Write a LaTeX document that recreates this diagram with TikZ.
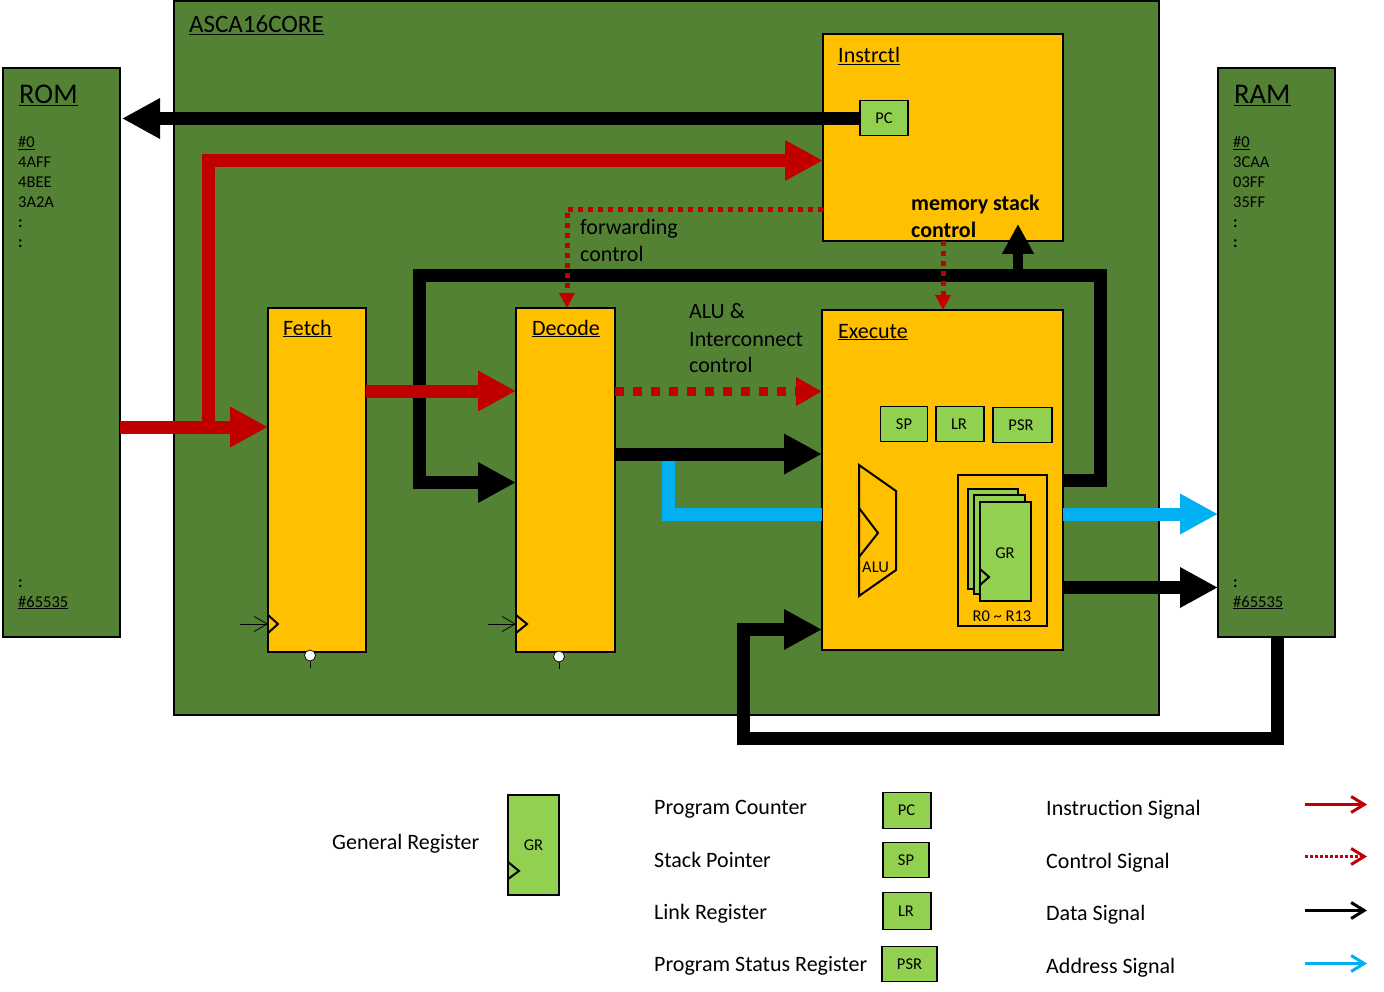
\documentclass[tikz,border=0pt]{standalone}
\usepackage{fontspec}
\setmainfont{Carlito}
\usetikzlibrary{arrows.meta}
\definecolor{dgreen}{HTML}{548235}
\definecolor{lgreen}{HTML}{92D050}
\definecolor{amber}{HTML}{FFC000}
\definecolor{dred}{HTML}{C00000}
\definecolor{sky}{HTML}{00B0F0}
\tikzset{
  x=1pt,y=-1pt,
  blockbox/.style={draw=black,line width=2pt,fill=#1,inner sep=0pt,outer sep=0pt},
  reg/.style={draw=black,line width=1.1pt,fill=lgreen,inner sep=0pt,outer sep=0pt,font=\fontsize{16.5}{16.5}\selectfont},
  lbl/.style={inner sep=0pt,anchor=base west,font=\fontsize{22}{22}\selectfont},
  small/.style={inner sep=0pt,anchor=base west,font=\fontsize{16.5}{16.5}\selectfont},
  big/.style={inner sep=0pt,anchor=base west,font=\fontsize{28.5}{28.5}\selectfont},
  bus/.style={line width=13pt,-{Triangle[length=38pt,width=38pt]}},
  busnt/.style={line width=13pt},
  ctrl/.style={dred,line width=5pt,dash pattern=on 5pt off 5pt},
  ctrlhead/.style={dred,line width=5pt,-{Triangle[length=15pt,width=15pt]}},
  clk/.style={-{Straight Barb[length=13pt,width=15pt,line width=.8pt]},line width=.8pt},
  edge/.style={line width=2pt},
  key/.style={line width=3pt,-{Straight Barb[length=13pt,width=16pt,line width=3pt]}},
}
\begin{document}
\begin{tikzpicture}
\useasboundingbox (0,0) rectangle (1384,992);
% main blocks
\node[blockbox=dgreen,minimum width=985pt,minimum height=714pt] (core) at (666.5,358) {};
\node[blockbox=dgreen,minimum width=117pt,minimum height=569pt] (rom) at (61.5,352.5) {};
\node[blockbox=dgreen,minimum width=117pt,minimum height=569pt] (ram) at (1276.5,352.5) {};
\node[blockbox=amber,minimum width=240pt,minimum height=207pt] (instr) at (943,137.5) {};
\node[blockbox=amber,minimum width=98pt,minimum height=344pt] (fetch) at (317,480) {};
\node[blockbox=amber,minimum width=99pt,minimum height=344pt] (decode) at (565.5,480) {};
\node[blockbox=amber,minimum width=241pt,minimum height=340pt] (exec) at (942.5,480) {};
% buses
\coordinate (a) at (120,427);
\coordinate (r1) at (208,427);
\coordinate (r2) at (208,160.5);
\draw[bus,dred] (rom.east|-a) -- (fetch.west|-a);
\draw[bus,dred] (r1) -- (r2) -- (instr.west|-r2);
\coordinate (de) at (0,454);
\draw[bus] (decode.east|-de) -- (exec.west|-de);
\coordinate (b1) at (668,514);
\coordinate (b2) at (668,461);
\draw[busnt,sky] (exec.west|-b1) -- (b1) -- (b2);
\coordinate (er) at (0,514);
\draw[bus,sky] (exec.east|-er) -- (ram.west|-er);
\coordinate (er2) at (0,587.5);
\draw[bus] (exec.east|-er2) -- (ram.west|-er2);
\coordinate (loop) at (0,480);
\coordinate (ld) at (0,482.5);
\draw[bus] (exec.east|-loop) -- (1100,480) -- (1100,276) -- (419,276) -- (419,482.5) -- (decode.west|-ld);
\coordinate (m1) at (1018,276);
\coordinate (m2) at (1018,224);
\draw[line width=10pt,-{Triangle[length=30pt,width=30pt]}] (m1) -- (m2);
\coordinate (re) at (0,629.5);
\coordinate (rs) at (1277,0);
\draw[bus] (ram.south-|rs) -- (1277,738) -- (743,738) -- (743,629.5) -- (exec.west|-re);
\coordinate (fd) at (0,391);
\draw[bus,dred] (fetch.east|-fd) -- (decode.west|-fd);
% PC
\node[reg,minimum width=48pt,minimum height=35pt] (pc) at (884,118) {PC};
\coordinate (pcy) at (0,118.5);
\coordinate (pce) at (122,118.5);
\draw[bus] (pc.west|-pcy) -- (pce);
% control
\coordinate (c1) at (0,209.5);
\coordinate (c1b) at (567,209.5);
\coordinate (c1c) at (567,293);
\coordinate (c1d) at (567,308);
\draw[ctrl] (instr.west|-c1) -- (c1b) -- (c1c);
\draw[ctrlhead] (c1c) -- (c1d);
\coordinate (c3) at (943,296);
\coordinate (c3b) at (943,310);
\coordinate (c3a) at (943,241);
\draw[ctrl] (c3a) -- (c3);
\draw[ctrlhead] (c3) -- (c3b);
\coordinate (c2) at (0,391.5);
\coordinate (c2b) at (796,391.5);
\draw[dred,line width=8.5pt,dash pattern=on 9pt off 9pt] (decode.east|-c2) -- (c2b);
\draw[dred,line width=8.5pt,-{Triangle[length=26pt,width=27pt]}] (c2b) -- (exec.west|-c2);
% text
\node[lbl,font=\fontsize{25}{25}\selectfont] (t0) at (189,33) {\underline{ASCA16CORE}};
\node[lbl] (t1) at (838,63) {\underline{Instrctl}};
\node[lbl] (t2) at (283,335) {\underline{Fetch}};
\node[lbl] (t3) at (532,335) {\underline{Decode}};
\node[lbl] (t4) at (838,338) {\underline{Execute}};
\node[big] (t5) at (19,104) {\underline{ROM}};
\node[big] (t6) at (1234,104) {\underline{RAM}};
\node[small] (ra) at (18,148) {\underline{\#0}};
\node[small] (rb) at (18,168) {4AFF};
\node[small] (rc) at (18,188) {4BEE};
\node[small] (rd) at (18,208) {3A2A};
\node[small] (re1) at (18,228) {\textbf{:}};
\node[small] (rf) at (18,248) {\textbf{:}};
\node[small] (rg) at (18,587) {\textbf{:}};
\node[small] (rh) at (18,607) {\underline{\#65535}};
\node[small] (sa) at (1233,148) {\underline{\#0}};
\node[small] (sb) at (1233,168) {3CAA};
\node[small] (sc) at (1233,188) {03FF};
\node[small] (sd) at (1233,208) {35FF};
\node[small] (se1) at (1233,228) {\textbf{:}};
\node[small] (sf) at (1233,248) {\textbf{:}};
\node[small] (sg) at (1233,587) {\textbf{:}};
\node[small] (sh) at (1233,607) {\underline{\#65535}};
\node[lbl,font=\fontsize{22}{22}\selectfont\bfseries] (ms1) at (911,211) {memory stack};
\node[lbl,font=\fontsize{22}{22}\selectfont\bfseries] (ms2) at (911,238) {control};
\node[lbl] (fw1) at (580,235) {forwarding};
\node[lbl] (fw2) at (580,262) {control};
\node[lbl] (al1) at (689,319) {ALU \&};
\node[lbl] (al2) at (689,346) {Interconnect};
\node[lbl] (al3) at (689,372) {control};
% registers in execute
\node[reg,minimum width=47pt,minimum height=35pt] (xsp) at (904,424) {SP};
\node[reg,minimum width=48pt,minimum height=35pt] (xlr) at (960,424) {\kern-2pt LR};
\node[reg,minimum width=59pt,minimum height=35pt] (xpsr) at (1022.5,425) {\kern-3pt PSR};
% ALU
\draw[edge,fill=amber] (859,465) -- (896,491) -- (896,570) -- (859,596) -- cycle;
\draw[edge] (859,508) -- (878,533) -- (859,557);
\node[small] (alu) at (862,572) {ALU};
% GR stack
\draw[edge] (958,475) rectangle (1047,626);
\draw[edge,fill=lgreen] (968,489) rectangle (1018,589);
\draw[edge,fill=lgreen] (974,495) rectangle (1025,594);
\draw[edge,fill=lgreen] (980,502) rectangle (1031,601);
\draw[edge] (980,569) -- (989,577) -- (980,585);
\node[small,anchor=center] (grt) at (1005,553) {GR};
\node[small,anchor=center] (rng) at (1002,616.5) {R0 \textasciitilde{} R13};
% clocks
\coordinate (ck1) at (240,624);
\draw[clk] (ck1) -- (fetch.west|-ck1);
\draw[edge] (268,615) -- (278,624) -- (268,633);
\coordinate (ck2) at (488,624);
\draw[clk] (ck2) -- (decode.west|-ck2);
\draw[edge] (516,615) -- (527,624) -- (516,633);
\draw[line width=.8pt] (310,656) -- (310,668);
\filldraw[fill=white,draw=black,line width=.7pt] (310,655.5) circle (5.5);
\draw[line width=.8pt] (559,656) -- (559,669);
\filldraw[fill=white,draw=black,line width=.7pt] (559,656.5) circle (5.5);
% legend
\node[lbl] (lg0) at (332,849) {General Register};
\node[reg,line width=1.6pt,minimum width=51pt,minimum height=100pt] (lgr) at (533.5,845) {GR};
\draw[edge] (508,862) -- (519,871) -- (508,879);
\node[lbl] (lg1) at (654,814) {Program Counter};
\node[lbl] (lg2) at (654,867) {Stack Pointer};
\node[lbl] (lg3) at (654,919) {Link Register};
\node[lbl] (lg4) at (654,971) {Program Status Register};
\node[reg,minimum width=48pt,minimum height=36pt] (kpc) at (907,810.5) {\kern-1pt PC};
\node[reg,minimum width=46pt,minimum height=35pt] (ksp) at (906,860) {SP};
\node[reg,minimum width=48pt,minimum height=37pt] (klr) at (907,911) {\kern-2pt LR};
\node[reg,minimum width=55pt,minimum height=35pt] (kpsr) at (909.5,964) {PSR};
\node[lbl] (ks1) at (1046,815) {Instruction Signal};
\node[lbl] (ks2) at (1046,868) {Control Signal};
\node[lbl] (ks3) at (1046,920) {Data Signal};
\node[lbl] (ks4) at (1046,973) {Address Signal};
\coordinate (k1a) at (1305,804.5); \coordinate (k1b) at (1367,804.5);
\coordinate (k2a) at (1305,856.5); \coordinate (k2b) at (1367,856.5);
\coordinate (k3a) at (1305,910.5); \coordinate (k3b) at (1367,910.5);
\coordinate (k4a) at (1305,963.5); \coordinate (k4b) at (1367,963.5);
\draw[key,dred] (k1a) -- (k1b);
\draw[key,dred,dash pattern=on 3.3pt off 1.7pt] (k2a) -- (k2b);
\draw[key] (k3a) -- (k3b);
\draw[key,sky] (k4a) -- (k4b);
\end{tikzpicture}
\end{document}
